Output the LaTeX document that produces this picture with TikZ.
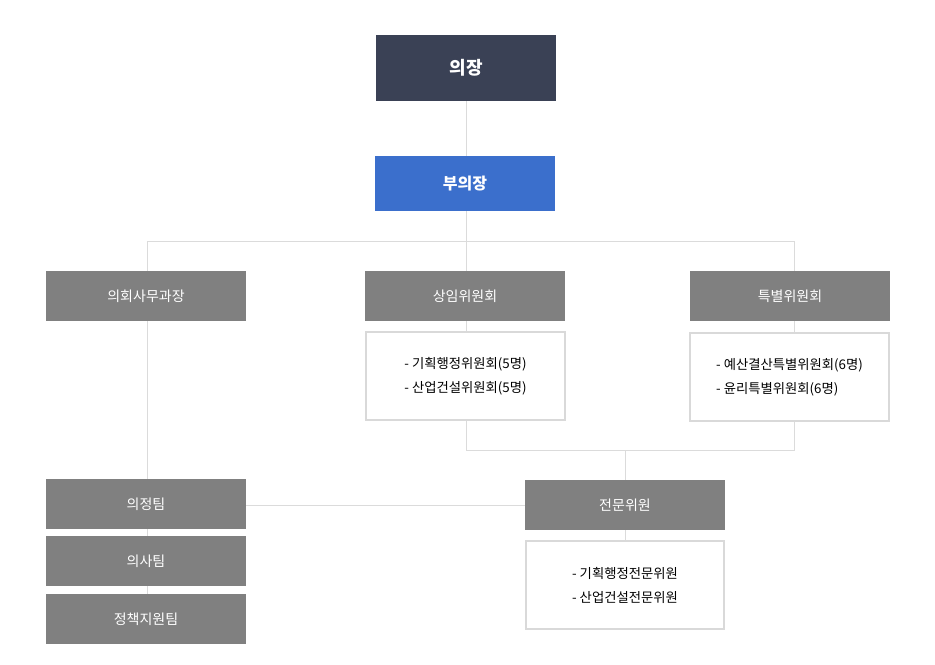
\documentclass[tikz,border=0pt]{standalone}
\usepackage{fontspec}
\setmainfont{Noto Sans CJK KR}
\begin{document}
\begin{tikzpicture}[x=0.75pt,y=-0.75pt,
 ln/.style={draw=black!14,line width=0.75pt},
 bx/.style={fill=black!50,text=white,font=\fontsize{10.5}{12}\selectfont},
 lst/.style={draw=black!15,line width=1pt,fill=white,font=\fontsize{10}{18}\selectfont,align=left}]
\useasboundingbox (0,0) rectangle (935,664);
% lines
\draw[ln] (466,101) -- (466,241);
\draw[ln] (147,271) -- (147,241) -- (794,241) -- (794,271);
\draw[ln] (466,241) -- (466,271);
\draw[ln] (466,321) -- (466,450) -- (794,450) -- (794,321);
\draw[ln] (625,450) -- (625,541);
\draw[ln] (147,321) -- (147,594);
\draw[ln] (246,505) -- (525,505);
% boxes
\fill[fill={rgb,255:red,58;green,65;blue,85}] (376,35) rectangle (556,101);
\node[text=white,font=\fontsize{13.5}{14}\selectfont\bfseries] (a) at (466,68) {의장};
\fill[fill={rgb,255:red,59;green,111;blue,204}] (375,156) rectangle (555,211);
\node[text=white,font=\fontsize{12}{14}\selectfont\bfseries] (b) at (465,183.5) {부의장};
\foreach \n/\x/\y/\t in {c/46/271/의회사무과장, d/365/271/상임위원회, e/690/271/특별위원회, f/525/480/전문위원, g/46/479/의정팀, h/46/536/의사팀, i/46/594/정책지원팀}{
  \fill[black!50] (\x,\y) rectangle ++(200,50);
  \node[bx] (\n) at (\x+100,\y+25) {\t};
}
\draw[lst] (366,332) rectangle (565,420);
\node[lst,draw=none] (l1) at (465.5,376) {- 기획행정위원회(5명)\\- 산업건설위원회(5명)};
\draw[lst] (690,333) rectangle (889,421);
\node[lst,draw=none] (l2) at (789.5,377) {- 예산결산특별위원회(6명)\\- 윤리특별위원회(6명)};
\draw[lst] (526,541) rectangle (724,629);
\node[lst,draw=none] (l3) at (625,585) {- 기획행정전문위원\\- 산업건설전문위원};
\end{tikzpicture}
\end{document}
